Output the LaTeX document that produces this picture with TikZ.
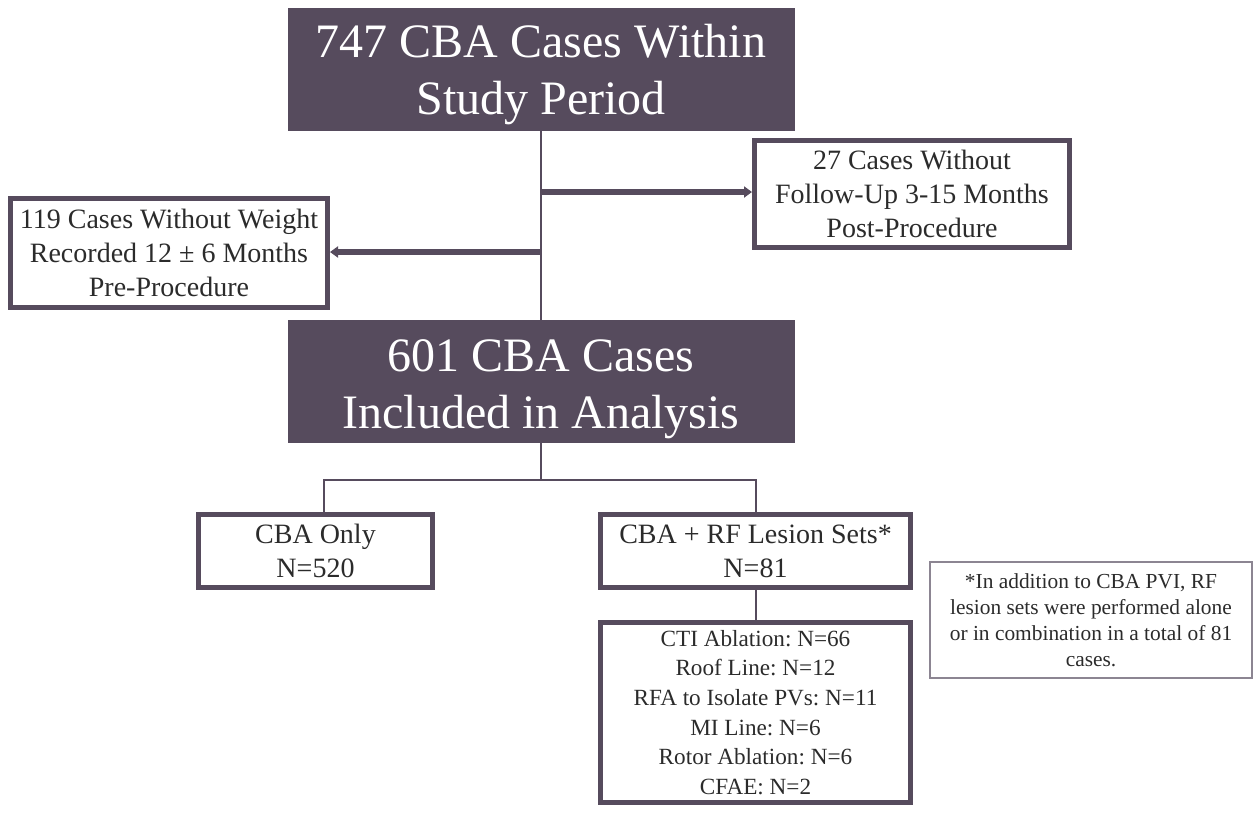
\documentclass[tikz,border=0pt]{standalone}
\usepackage{fontspec}
\setmainfont{Liberation Serif}
\usetikzlibrary{arrows.meta}
\definecolor{plum}{HTML}{564B5D}
\definecolor{notegray}{HTML}{8C8592}
\definecolor{ink}{HTML}{2B2B2B}
\frenchspacing
\begin{document}
\begin{tikzpicture}[x = 0.5pt, y = -0.5pt,
        darkbox/.style={rectangle, fill=plum, draw=plum, text=white, align=center, inner sep=0pt,
            minimum width=253pt, minimum height=61pt, font=\fontsize{24}{28.5}\selectfont},
        casebox/.style={rectangle, draw=plum, line width=2.5pt, text=ink, align=center, inner sep=0pt,
            font=\fontsize{14}{17}\selectfont},
        notebox/.style={rectangle, draw=notegray, line width=1pt, text=ink, align=center, inner sep=0pt,
            minimum width=161pt, minimum height=58pt, font=\fontsize{10.7}{13}\selectfont},
        flow/.style={draw=plum, line width=1pt},
        excl/.style={draw=plum, line width=3.2pt, -{Triangle[length=4pt, width=5.5pt]}}
]
    \useasboundingbox (0,0) rectangle (1260,821);
    \node[darkbox] (total) at (541,69) {\rule{0pt}{22pt}747 CBA Cases Within\\Study Period};
    \node[darkbox] (incl) at (541,381) {\rule{0pt}{24pt}601 CBA Cases\\Included in Analysis};
    \node[casebox, minimum width=157.5pt, minimum height=53.5pt] (nofollow) at (912,194)
        {27 Cases Without\\Follow-Up 3-15 Months\\Post-Procedure};
    \node[casebox, minimum width=158.5pt, minimum height=54.5pt] (noweight) at (169,253)
        {119 Cases Without Weight\\Recorded 12 ± 6 Months\\Pre-Procedure};
    \node[casebox, minimum width=117pt, minimum height=36.5pt] (only) at (315.5,551)
        {CBA Only\\N=520};
    \node[casebox, minimum width=155pt, minimum height=36.5pt] (rf) at (755.5,551)
        {CBA + RF Lesion Sets*\\N=81};
    \node[casebox, minimum width=155pt, minimum height=90pt,
        font=\fontsize{11.6}{14.8}\selectfont] (lesion) at (755.5,712.5)
        {CTI Ablation: N=66\\Roof Line: N=12\\RFA to Isolate PVs: N=11\\MI Line: N=6\\Rotor Ablation: N=6\\CFAE: N=2};
    \node[notebox] (note) at (1091,620)
        {*In addition to CBA PVI, RF\\lesion sets were performed alone\\or in combination in a total of 81\\cases.};

    % trunk and exclusions
    \coordinate (toright) at (541,192);
    \coordinate (toleft) at (541,252);
    \coordinate (split) at (541,480);
    \draw[flow] (total.south) -- (incl.north);
    \draw[excl] (toright) -- (toright -| nofollow.west);
    \draw[excl] (toleft) -- (toleft -| noweight.east);

    % subgroups
    \draw[flow] (incl.south) -- (split);
    \draw[flow] (split) -| ([xshift=4pt]only.north);
    \draw[flow] (split) -| (rf.north);
    \draw[flow] (rf.south) -- (lesion.north);
\end{tikzpicture}
\end{document}
